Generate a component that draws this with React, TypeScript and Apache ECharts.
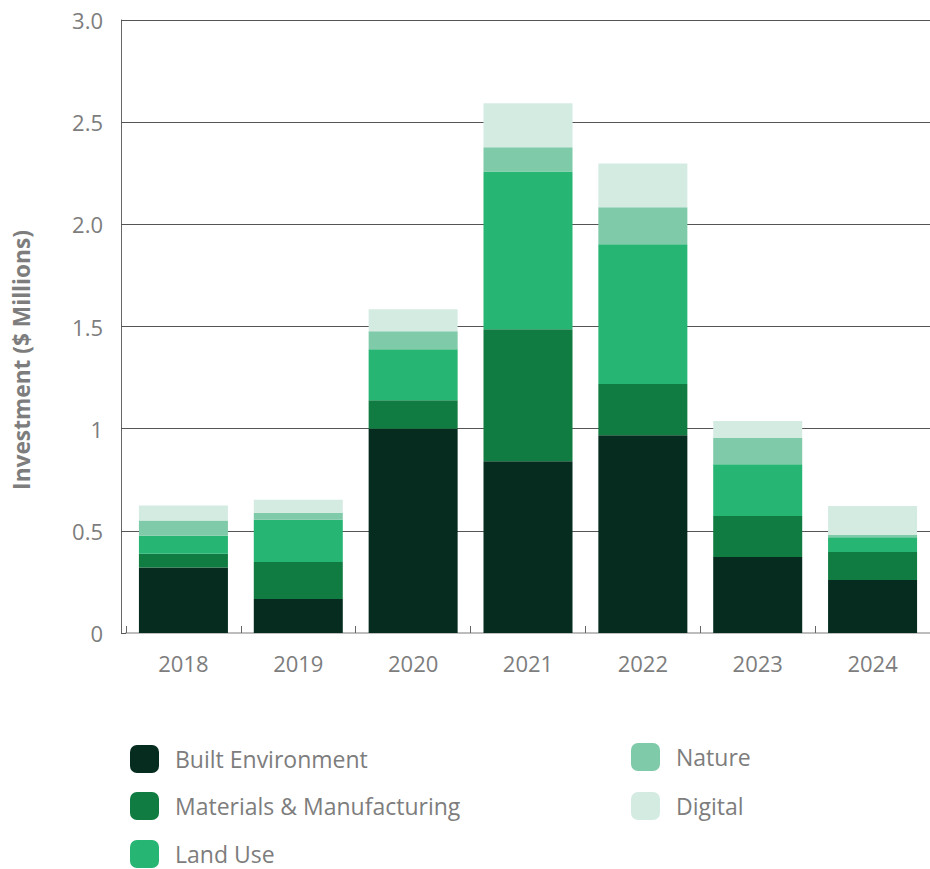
import React, { useEffect, useRef } from "react";
import * as echarts from "echarts";

const years = ["2018", "2019", "2020", "2021", "2022", "2023", "2024"];
const builtEnvironment = [0.32, 0.167, 1.0, 0.841, 0.968, 0.372, 0.259];
const materialsManufacturing = [0.068, 0.181, 0.139, 0.646, 0.25, 0.2, 0.137];
const landUse = [0.088, 0.206, 0.25, 0.772, 0.684, 0.254, 0.073];
const nature = [0.074, 0.034, 0.088, 0.118, 0.181, 0.128, 0.01];
const digital = [0.074, 0.064, 0.107, 0.215, 0.215, 0.083, 0.142];

const seriesNames = ["Built Environment", "Materials & Manufacturing", "Land Use", "Nature", "Digital"];
const seriesColors = ["#052c1e", "#107c41", "#26b573", "#7fcaa8", "#d4ebe2"];
const seriesValues = [builtEnvironment, materialsManufacturing, landUse, nature, digital];

const FONT = "'Open Sans', sans-serif";
const GRAY = "#7d7d7d";

// legend item placement (icon left / top)
const legendSpots = [
  [130, 745],
  [130, 792],
  [130, 840],
  [631, 743],
  [631, 792],
];

export default function App() {
  const ref = useRef<HTMLDivElement>(null);
  useEffect(() => {
    if (!ref.current) return;
    const chart = echarts.init(ref.current, undefined, { renderer: "svg" });
    chart.setOption({
      animation: false,
      backgroundColor: "#ffffff",
      textStyle: { fontFamily: FONT },
      grid: { left: 126, top: 20, width: 807, height: 613 },
      legend: seriesNames.map((name, i) => ({
        data: [name],
        orient: "vertical",
        left: legendSpots[i][0],
        top: legendSpots[i][1],
        padding: 0,
        icon: "roundRect",
        itemWidth: 29,
        itemHeight: 28,
        textStyle: { color: GRAY, fontSize: 23, lineHeight: 26, fontFamily: FONT, padding: [2, 0, 0, 11] },
      })),
      xAxis: {
        type: "category",
        data: years,
        axisLine: { show: true, lineStyle: { color: "#bdbdbd", width: 2 } },
        axisTick: { show: true, inside: true, length: 7, lineStyle: { color: "#666" } },
        axisLabel: { color: GRAY, fontSize: 22, margin: 19, fontFamily: FONT },
      },
      yAxis: {
        type: "value",
        min: 0,
        max: 3,
        interval: 0.5,
        offset: 5,
        axisLine: { show: true, lineStyle: { color: "#666", width: 1 } },
        axisTick: { show: true, inside: true, length: 5, lineStyle: { color: "#555" } },
        splitLine: { show: true, lineStyle: { color: "#555", width: 1 } },
        axisLabel: {
          color: GRAY,
          fontSize: 22,
          margin: 18,
          fontFamily: FONT,
          formatter: (v: number) => (v === 0 ? "0" : v === 1 ? "1" : v.toFixed(1)),
        },
      },
      graphic: [
        {
          type: "text",
          x: 21,
          y: 360,
          rotation: Math.PI / 2,
          style: {
            text: "Investment ($ Millions)",
            fill: GRAY,
            font: `bold 22.7px ${FONT}`,
            textAlign: "center",
            textVerticalAlign: "middle",
          },
        },
      ],
      series: seriesNames.map((name, i) => ({
        name,
        type: "bar",
        stack: "total",
        barWidth: 89,
        data: seriesValues[i],
        itemStyle: { color: seriesColors[i] },
      })),
    });
    return () => chart.dispose();
  }, []);
  return (
    <div
      ref={ref}
      style={{ position: "fixed", left: 0, top: 0, width: 930, height: 869, background: "#fff" }}
    />
  );
}
